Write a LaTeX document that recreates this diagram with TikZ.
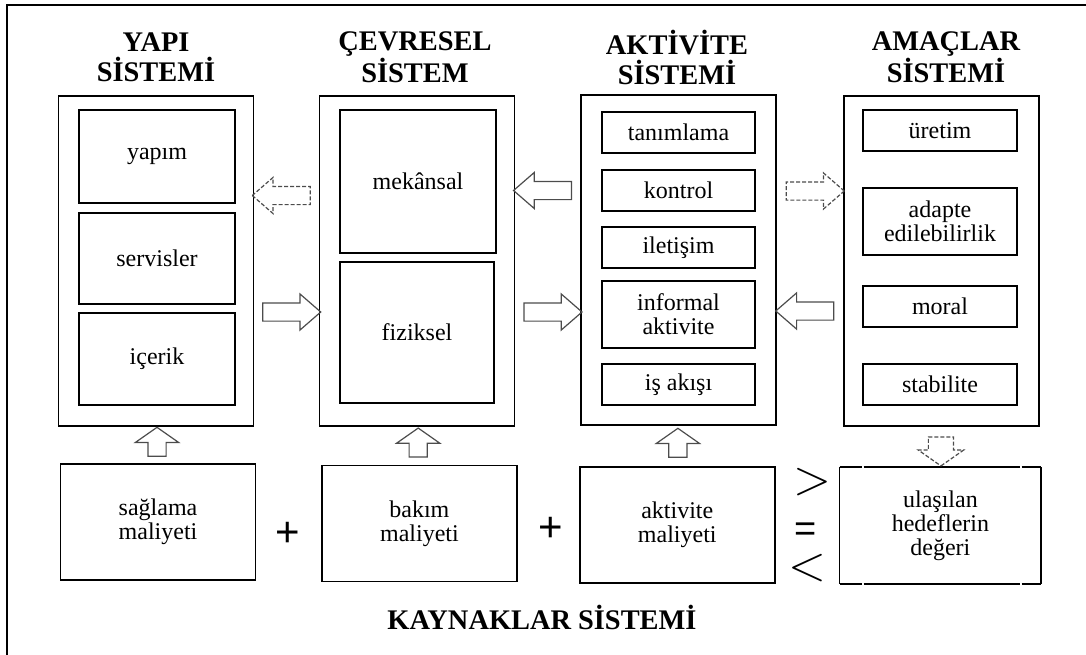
\documentclass[tikz,border=0pt]{standalone}
\usepackage{fontspec}
\setmainfont{Liberation Serif}
\newfontfamily\signfont{Liberation Sans}
\usetikzlibrary{shapes.arrows,calc}

\tikzset{
  sysbox/.style={draw, line width=0.9pt, minimum width=97.5pt, minimum height=165pt},
  part/.style={draw, line width=0.9pt, inner sep=0pt, align=center,
    font=\fontsize{12}{12}\selectfont},
  cost/.style={part, minimum width=97.5pt, minimum height=58pt},
  title/.style={align=center, font=\fontsize{14.2}{15}\selectfont\bfseries},
  sign/.style={font=\signfont\fontsize{21}{21}\selectfont, inner sep=0pt,
    anchor=base, text height=10pt, text depth=0pt},
  relsign/.style={inner sep=0pt, text height=13pt, text depth=1pt},
  blockarrow/.style={single arrow, draw=black!70, line width=0.6pt,
    inner xsep=0pt, inner ysep=4.25pt,
    minimum height=29pt, single arrow head extend=4.5pt,
    single arrow tip angle=82, single arrow head indent=0pt},
  uparrow/.style={blockarrow, rotate=90, minimum height=14.5pt,
    single arrow head extend=6.25pt, single arrow tip angle=110},
  dashedline/.style={dash pattern=on 2pt off 1pt}
}

\begin{document}
\begin{tikzpicture}[x=0.5pt,y=-0.5pt]
\useasboundingbox (0,0) rectangle (1086,654);
\clip (0,0) rectangle (1086,654);
\draw[line width=0.9pt] (7,5) rectangle (1100,670);

% basliklar
\node[title] (tyapi) at (156,57) {YAPI\\SİSTEMİ};
\node[title] (tcevre) at (415,57) {ÇEVRESEL\\SİSTEM};
\node[title] (taktv) at (677,57) {AKTİVİTE\\SİSTEMİ};
\node[title] (tamac) at (946,57) {AMAÇLAR\\SİSTEMİ};
\node[title] (tkaynak) at (542,617) {KAYNAKLAR SİSTEMİ};

% sistemler
\node[sysbox] (yapi) at (156,261) {};
\node[sysbox] (cevre) at (417,261) {};
\node[sysbox] (aktv) at (678.5,260) {};
\node[sysbox] (amac) at (941.5,261) {};

\node[part, minimum width=78pt, minimum height=46.5pt] (yapim) at (157,156.5) {yapım};
\node[part, minimum width=78pt, minimum height=45.5pt] (servis) at (157,258.5) {servisler};
\node[part, minimum width=78pt, minimum height=46pt] (icerik) at (157,359) {içerik};

\node[part, minimum width=78pt, minimum height=71.5pt] (mekan) at (418,181.5) {mekânsal};
\node[part, minimum width=77pt, minimum height=70.5pt] (fizik) at (417,332.5) {fiziksel};

\node[part, minimum width=76.5pt, minimum height=20.5pt] (tanim) at (678.5,132.5) {tanımlama};
\node[part, minimum width=76.5pt, minimum height=20.5pt] (kontrol) at (678.5,190.5) {kontrol};
\node[part, minimum width=76.5pt, minimum height=20.5pt] (ileti) at (678.5,247.5) {iletişim};
\node[part, minimum width=76.5pt, minimum height=33.5pt] (inform) at (678.5,314.5) {informal\\aktivite};
\node[part, minimum width=76.5pt, minimum height=20.5pt] (isakis) at (678.5,384.5) {iş akışı};

\node[part, minimum width=77pt, minimum height=20.5pt] (uretim) at (940,130.5) {üretim};
\node[part, minimum width=77pt, minimum height=33.5pt] (adapte) at (940,221.5) {adapte\\edilebilirlik};
\node[part, minimum width=77pt, minimum height=20.5pt] (moral) at (940,306.5) {moral};
\node[part, minimum width=77pt, minimum height=20.5pt] (stabil) at (940,384.5) {stabilite};

% kaynaklar
\node[cost] (sagla) at (158,522) {sağlama\\maliyeti};
\node[cost] (bakim) at (419.4,523.5) {bakım\\maliyeti};
\node[cost] (aktmal) at (677.3,525) {aktivite\\maliyeti};
\node[cost, draw=none, minimum width=100pt, minimum height=57.5pt] (hedef) at (940.4,525.5) {ulaşılan\\hedeflerin\\değeri};
\draw[line width=0.9pt] (hedef.north west) -- (hedef.south west);
\draw[line width=0.9pt] (hedef.north east) -- (hedef.south east);
\draw[line width=0.9pt, dash pattern=on 11pt off 1pt on 78pt off 1pt on 20pt] (hedef.north west) -- (hedef.north east);
\draw[line width=0.9pt, dash pattern=on 11pt off 1pt on 78pt off 1pt on 20pt] (hedef.south west) -- (hedef.south east);

\node[sign] (plus1) at (287.6,546) {+};
\node[sign] (plus2) at (550.4,541) {+};
\node[sign, font=\signfont\fontsize{19}{19}\selectfont] (esit) at (806,541) {=};
\node[relsign] (buyuk) at (812,482) {\fontsize{25}{25}\selectfont$>$};
\node[relsign] (kucuk) at (807,568) {\fontsize{25}{25}\selectfont$<$};

% oklar
\node[blockarrow, dashedline, rotate=180] (a1) at ($(yapi.east)!.5!(cevre.west)+(0,-65.5)$) {};
\node[blockarrow] (a2) at ($(yapi.east)!.5!(cevre.west)+(0,51)$) {};
\node[blockarrow, rotate=180] (a3) at ($(cevre.east)!.5!(aktv.west)+(0,-70)$) {};
\node[blockarrow] (a4) at ($(cevre.east)!.5!(aktv.west)+(0,51.5)$) {};
\node[blockarrow, dashedline] (a5) at ($(aktv.east)!.5!(amac.west)+(0,-69.5)$) {};
\node[blockarrow, rotate=180] (a6) at ($(aktv.east)!.5!(amac.west)+(0,50.5)$) {};

\node[uparrow] (u1) at ($(yapi.south)!.5!(sagla.north)$) {};
\node[uparrow] (u2) at ($(cevre.south)!.5!(bakim.north)$) {};
\node[uparrow] (u3) at ($(aktv.south)!.5!(aktmal.north)$) {};
\node[uparrow, dashedline, rotate=180, inner ysep=6pt, single arrow head extend=5pt] (d4) at ($(amac.south)!.5!(hedef.north)$) {};

\end{tikzpicture}
\end{document}
